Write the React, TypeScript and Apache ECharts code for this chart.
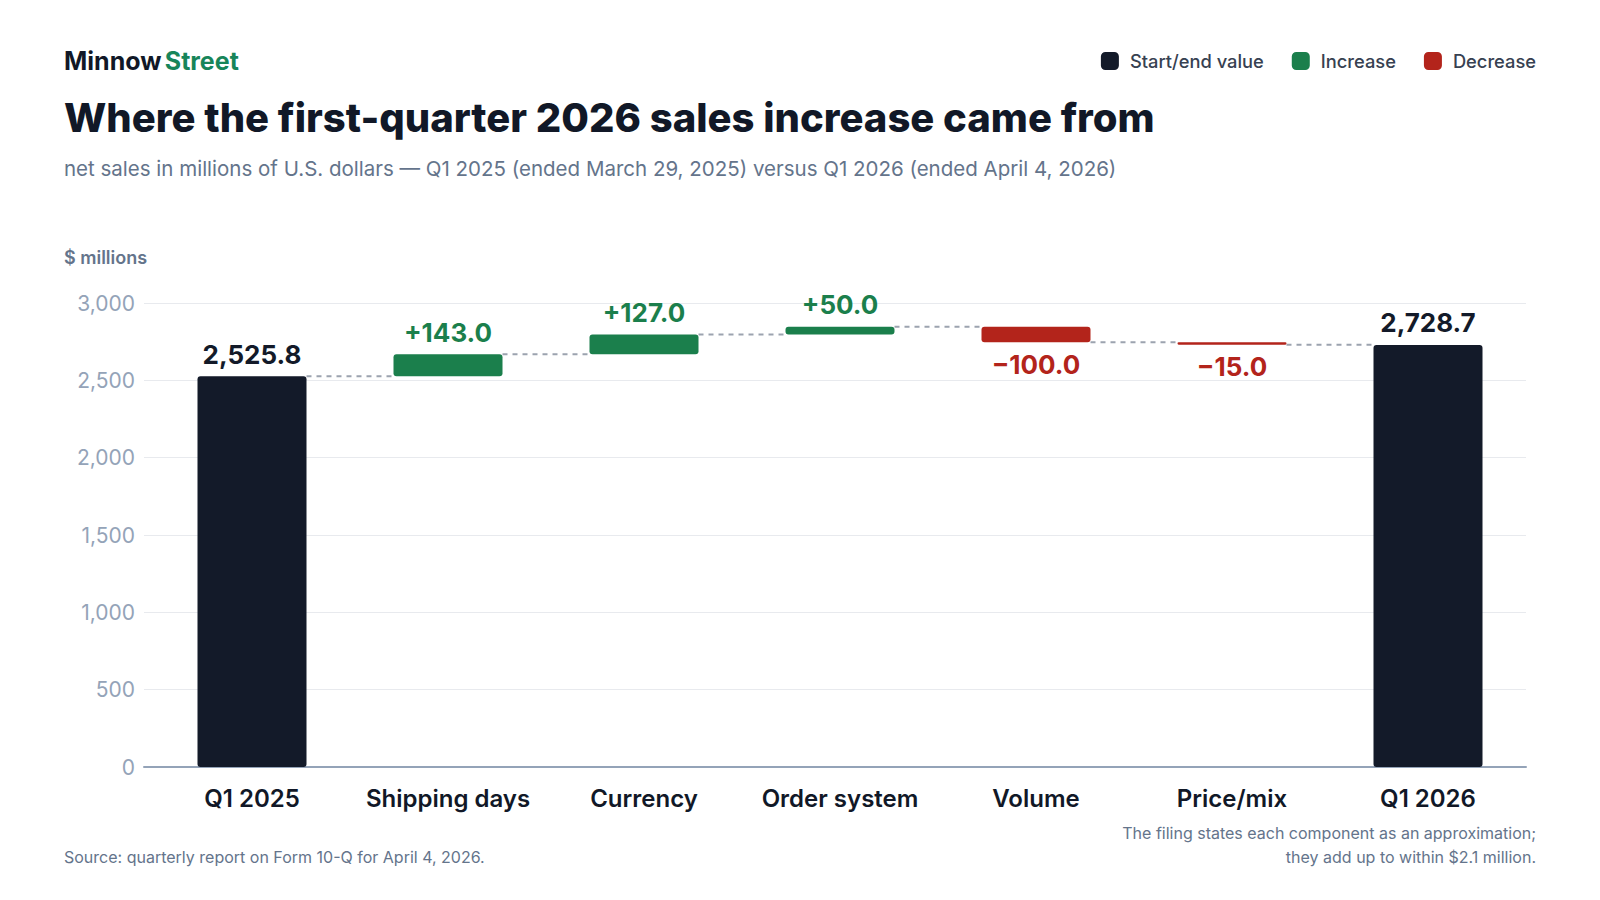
import React, { useEffect, useRef } from 'react';
import * as echarts from 'echarts';

const categories = ['Q1 2025', 'Shipping days', 'Currency', 'Order system', 'Volume', 'Price/mix', 'Q1 2026'];
const startValue = 2525.8;
const changes = [143.0, 127.0, 50.0, -100.0, -15.0];
const endValue = 2728.7;
const yTicks = [0, 500, 1000, 1500, 2000, 2500, 3000];

const DARK = '#131a29';
const GREEN = '#1b7f4c';
const RED = '#b3241b';

const fmt = (v: number) =>
  v.toLocaleString('en-US', { minimumFractionDigits: 1, maximumFractionDigits: 1 });

const App = () => {
  const chartRef = useRef<HTMLDivElement>(null);

  useEffect(() => {
    const myChart = echarts.init(chartRef.current, null, { renderer: 'svg' });

    // build waterfall stacks from the change list
    const base: (number | string)[] = ['-'];
    const totals: (number | string)[] = [startValue];
    const inc: (number | string)[] = ['-'];
    const dec: (number | string)[] = ['-'];
    const levels: number[][] = [[0, startValue]];
    let running = startValue;
    changes.forEach((c, i) => {
      const next = running + c;
      base.push(Math.min(running, next));
      totals.push('-');
      inc.push(c > 0 ? c : '-');
      dec.push(c < 0 ? -c : '-');
      levels.push([i + 1, next]);
      running = next;
    });
    base.push('-');
    totals.push(endValue);
    inc.push('-');
    dec.push('-');

    const barWidth = 109;
    const yMax = yTicks[yTicks.length - 1];
    const yStep = yTicks[1] - yTicks[0];

    const valueLabel = (color: string, position: string, prefix: string) => ({
      show: true,
      position,
      distance: 9,
      fontSize: 26,
      fontWeight: 700,
      color,
      fontFamily: 'Inter',
      formatter: (p: any) => prefix + fmt(p.value),
    });

    const option = {
      animation: false,
      backgroundColor: '#ffffff',
      textStyle: { fontFamily: 'Inter' },
      legend: {
        data: ['Start/end value', 'Increase', 'Decrease'],
        right: 59,
        top: 47,
        icon: 'roundRect',
        itemWidth: 18,
        itemHeight: 18,
        itemGap: 28,
        textStyle: {
          fontSize: 18.3,
          color: '#374151',
          fontWeight: 500,
          fontFamily: 'Inter',
          padding: [0, 0, 0, 6],
        },
      },
      graphic: [
        {
          type: 'text',
          x: 64,
          y: 61,
          style: {
            text: '{a|Minnow} {b|Street}',
            textVerticalAlign: 'middle',
            rich: {
              a: { fontSize: 25, fontWeight: 700, fill: '#111827', fontFamily: 'Inter' },
              b: { fontSize: 25, fontWeight: 700, fill: '#17855a', fontFamily: 'Inter' },
            },
          },
        },
        {
          type: 'text',
          x: 64,
          y: 117,
          style: {
            text: 'Where the first-quarter 2026 sales increase came from',
            textVerticalAlign: 'middle',
            fontSize: 40,
            fontWeight: 800,
            fill: '#111827',
            fontFamily: 'Inter',
          },
        },
        {
          type: 'text',
          x: 64,
          y: 168,
          style: {
            text: 'net sales in millions of U.S. dollars \u2014 Q1 2025 (ended March 29, 2025) versus Q1 2026 (ended April 4, 2026)',
            textVerticalAlign: 'middle',
            fontSize: 20.5,
            fill: '#64748b',
            fontFamily: 'Inter',
          },
        },
        {
          type: 'text',
          x: 64,
          y: 257,
          style: {
            text: '$ millions',
            textVerticalAlign: 'middle',
            fontSize: 18,
            fontWeight: 600,
            fill: '#64748b',
            fontFamily: 'Inter',
          },
        },
        {
          type: 'text',
          x: 64,
          y: 857,
          style: {
            text: 'Source: quarterly report on Form 10-Q for April 4, 2026.',
            textVerticalAlign: 'middle',
            fontSize: 16,
            fill: '#64748b',
            fontFamily: 'Inter',
          },
        },
        {
          type: 'text',
          x: 1536,
          y: 833,
          style: {
            text: 'The filing states each component as an approximation;',
            textAlign: 'right',
            textVerticalAlign: 'middle',
            fontSize: 16,
            fill: '#64748b',
            fontFamily: 'Inter',
          },
        },
        {
          type: 'text',
          x: 1536,
          y: 857,
          style: {
            text: 'they add up to within $2.1 million.',
            textAlign: 'right',
            textVerticalAlign: 'middle',
            fontSize: 16,
            fill: '#64748b',
            fontFamily: 'Inter',
          },
        },
      ],
      // grid 0 carries the y scale, gridlines and baseline; grid 1 the category bands
      grid: [
        { left: 144, right: 74, top: 303, bottom: 133 },
        { left: 154, right: 74, top: 303, bottom: 133 },
      ],
      xAxis: [
        {
          gridIndex: 0,
          type: 'value',
          min: 0,
          max: 1,
          axisLine: { show: true, onZero: false, lineStyle: { color: '#94a3b8', width: 2 } },
          axisTick: { show: false },
          axisLabel: { show: false },
          splitLine: { show: false },
        },
        {
          gridIndex: 1,
          type: 'category',
          data: categories,
          axisLine: { show: false },
          axisTick: { show: false },
          axisLabel: {
            interval: 0,
            fontSize: 24,
            fontWeight: 600,
            color: '#111827',
            margin: 19,
            fontFamily: 'Inter',
          },
        },
      ],
      yAxis: [
        {
          gridIndex: 0,
          type: 'value',
          min: 0,
          max: yMax,
          interval: yStep,
          axisLine: { show: false },
          axisTick: { show: false },
          splitLine: { lineStyle: { color: '#e8eaee', width: 1 } },
          axisLabel: {
            fontSize: 21,
            color: '#94a3b8',
            margin: 9,
            fontFamily: 'Inter',
            formatter: (v: number) => v.toLocaleString('en-US'),
          },
        },
        {
          gridIndex: 1,
          type: 'value',
          min: 0,
          max: yMax,
          interval: yStep,
          show: false,
          splitLine: { show: false },
        },
      ],
      series: [
        {
          name: 'base',
          type: 'bar',
          xAxisIndex: 1,
          yAxisIndex: 1,
          stack: 'wf',
          barWidth,
          itemStyle: { color: 'transparent' },
          emphasis: { disabled: true },
          data: base,
        },
        {
          name: 'Start/end value',
          type: 'bar',
          xAxisIndex: 1,
          yAxisIndex: 1,
          stack: 'wf',
          barWidth,
          itemStyle: { color: DARK, borderRadius: 3 },
          label: valueLabel(DARK, 'top', ''),
          data: totals,
        },
        {
          name: 'Increase',
          type: 'bar',
          xAxisIndex: 1,
          yAxisIndex: 1,
          stack: 'wf',
          barWidth,
          itemStyle: { color: GREEN, borderRadius: 3 },
          label: valueLabel(GREEN, 'top', '+'),
          data: inc,
        },
        {
          name: 'Decrease',
          type: 'bar',
          xAxisIndex: 1,
          yAxisIndex: 1,
          stack: 'wf',
          barWidth,
          itemStyle: { color: RED, borderRadius: 3 },
          label: valueLabel(RED, 'bottom', '\u2212'),
          data: dec,
        },
        {
          name: 'connectors',
          type: 'custom',
          xAxisIndex: 1,
          yAxisIndex: 1,
          silent: true,
          z: 1,
          renderItem: (_params: any, api: any) => {
            const idx = api.value(0);
            const p0 = api.coord([idx, api.value(1)]);
            const p1 = api.coord([idx + 1, api.value(1)]);
            return {
              type: 'line',
              shape: { x1: p0[0] + barWidth / 2, y1: p0[1], x2: p1[0] - barWidth / 2, y2: p1[1] },
              style: { stroke: '#9ca3af', lineWidth: 2, lineDash: [5, 5] },
            };
          },
          data: levels,
        },
      ],
    };

    myChart.setOption(option);

    return () => {
      myChart.dispose();
    };
  }, []);

  return (
    <div
      ref={chartRef}
      style={{ position: 'fixed', left: 0, top: 0, width: '1600px', height: '900px' }}
    />
  );
};

export default App;
